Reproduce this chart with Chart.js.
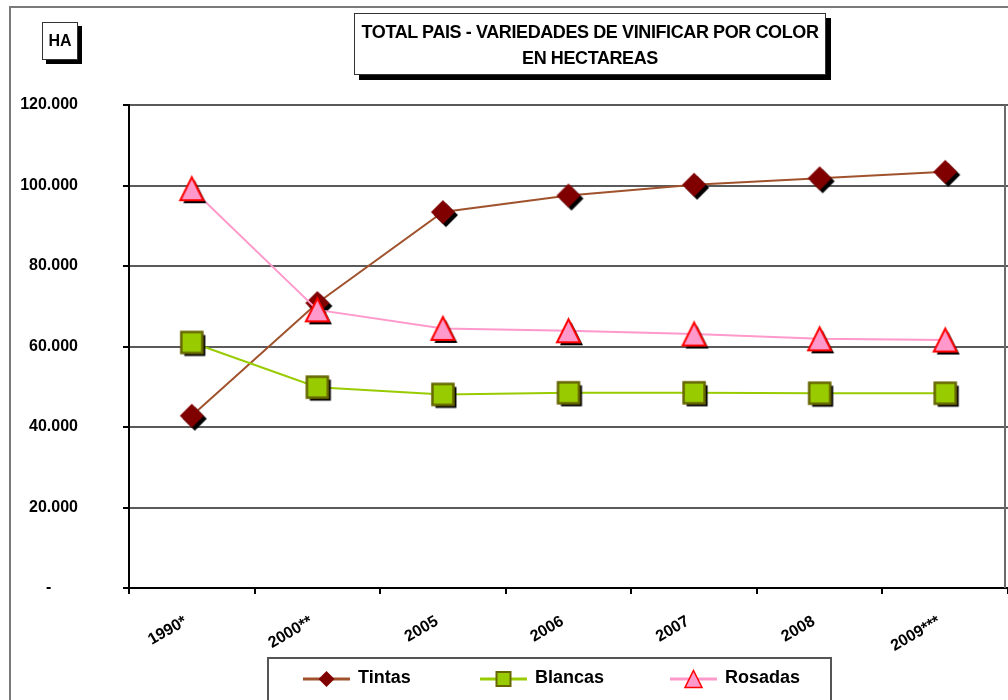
<!DOCTYPE html>
<html>
<head>
<meta charset="utf-8">
<script src="https://cdn.jsdelivr.net/npm/chart.js@4.4.0/dist/chart.umd.min.js"></script>
<style>
  html, body { margin: 0; padding: 0; background: #fff; overflow: hidden; }
  #wrap { position: relative; width: 1008px; height: 700px; overflow: hidden; }
  #frame { position: absolute; left: 9px; top: 6px; width: 1020px; height: 720px; border: 2px solid #7a7a7a; box-sizing: border-box; }
  .box { position: absolute; background: #fff; border: 1.5px solid #333; box-shadow: 5px 5px 0 #000;
         font-family: "Liberation Sans", Arial, sans-serif; font-weight: bold; color: #000; text-align: center; box-sizing: border-box; }
  #ha { left: 42px; top: 22px; width: 36px; height: 38px; font-size: 16px; line-height: 36px; box-shadow: 4px 4px 0 #000; }
  #title { left: 354px; top: 13px; width: 472px; height: 62px; font-size: 18px; letter-spacing: -0.4px; line-height: 26px; padding-top: 5px; }
  canvas { position: absolute; left: 0; top: 0; }
</style>
</head>
<body>
<div id="wrap">
  <div id="frame"></div>
  <canvas id="chart" width="1008" height="700"></canvas>
  <div class="box" id="ha">HA</div>
  <div class="box" id="title">TOTAL PAIS - VARIEDADES DE VINIFICAR POR COLOR<br>EN HECTAREAS</div>
</div>
<script>
const years = ['1990*', '2000**', '2005', '2006', '2007', '2008', '2009***'];
const tintas = [42800, 70800, 93400, 97500, 100200, 101800, 103400];
const blancas = [61000, 49900, 48100, 48500, 48500, 48400, 48400];
const rosadas = [99200, 69100, 64500, 63900, 63100, 61900, 61600];
const yTicks = [0, 20000, 40000, 60000, 80000, 100000, 120000];

const FONT = '"Liberation Sans", Arial, sans-serif';

// draws one marker shape centred on (x, y)
function shape(ctx, type, x, y, r) {
  ctx.beginPath();
  if (type === 'diamond') {
    ctx.moveTo(x, y - r); ctx.lineTo(x + r, y); ctx.lineTo(x, y + r); ctx.lineTo(x - r, y);
  } else if (type === 'square') {
    ctx.rect(x - r, y - r, 2 * r, 2 * r);
  } else {
    ctx.moveTo(x, y - r); ctx.lineTo(x + r, y + r); ctx.lineTo(x - r, y + r);
  }
  ctx.closePath();
}

function makeMarker(type, fill, stroke, r, lw, shadow) {
  const c = document.createElement('canvas');
  const s = Math.ceil(2 * (r + shadow + lw + 1));
  c.width = s; c.height = s;
  const g = c.getContext('2d');
  if (shadow) {
    shape(g, type, s / 2 + shadow, s / 2 + shadow, r);
    g.fillStyle = '#000'; g.fill();
  }
  shape(g, type, s / 2, s / 2, r);
  g.fillStyle = fill; g.fill();
  if (stroke) { g.lineWidth = lw; g.strokeStyle = stroke; g.stroke(); }
  return c;
}

const series = [
  { label: 'Tintas', data: tintas, line: '#A0522D', type: 'diamond', fill: '#800000', stroke: null, r: 12, lw: 0, order: 3 },
  { label: 'Blancas', data: blancas, line: '#99CC00', type: 'square', fill: '#99CC00', stroke: '#666600', r: 10.5, lw: 2.5, order: 2 },
  { label: 'Rosadas', data: rosadas, line: '#FF99CC', type: 'tri', fill: '#FF99CC', stroke: '#FF0000', r: 11.5, lw: 2, order: 1 }
];

function fmt(v) {
  if (v === 0) return '-      ';
  return String(v).replace(/\B(?=(\d{3})+(?!\d))/g, '.');
}

// right border of plot area + custom legend box
const extras = {
  id: 'extras',
  afterDraw(chart) {
    const { ctx, chartArea: a } = chart;
    ctx.save();
    ctx.strokeStyle = '#6a6a6a';
    ctx.lineWidth = 2;
    ctx.beginPath();
    ctx.moveTo(a.right - 3, a.top); ctx.lineTo(a.right - 3, a.bottom);
    ctx.stroke();

    // legend
    ctx.fillStyle = '#fff';
    ctx.fillRect(268, 658, 563, 50);
    ctx.strokeStyle = '#555';
    ctx.lineWidth = 2;
    ctx.strokeRect(268, 658, 563, 50);
    const lx = [303, 480, 670];
    const sm = [
      { r: 8, lw: 0 }, { r: 7, lw: 2 }, { r: 8.5, lw: 1.5 }
    ];
    ctx.font = 'bold 18px ' + FONT;
    ctx.textBaseline = 'middle';
    chart.data.datasets.forEach((ds, i) => {
      const s = series[i];
      const y = 679;
      ctx.strokeStyle = s.line;
      ctx.lineWidth = 3;
      ctx.beginPath();
      ctx.moveTo(lx[i], y); ctx.lineTo(lx[i] + 47, y);
      ctx.stroke();
      shape(ctx, s.type, lx[i] + 23.5, y, sm[i].r);
      ctx.fillStyle = s.fill; ctx.fill();
      if (s.stroke) { ctx.lineWidth = sm[i].lw; ctx.strokeStyle = s.stroke; ctx.stroke(); }
      ctx.fillStyle = '#000';
      ctx.textAlign = 'left';
      ctx.fillText(ds.label, lx[i] + 55, y - 1);
    });
    ctx.restore();
  }
};

new Chart(document.getElementById('chart'), {
  type: 'line',
  data: {
    labels: years,
    datasets: series.map(s => ({
      label: s.label,
      data: s.data,
      borderColor: s.line,
      backgroundColor: s.fill,
      borderWidth: 2,
      tension: 0,
      order: s.order,
      pointStyle: makeMarker(s.type, s.fill, s.stroke, s.r, s.lw, 3)
    }))
  },
  options: {
    responsive: false,
    animation: false,
    layout: { autoPadding: false, padding: { top: 105, left: 0, right: 0, bottom: 0 } },
    plugins: {
      legend: { display: false },
      title: { display: false },
      tooltip: { enabled: false }
    },
    scales: {
      x: {
        offset: true,
        afterFit: s => { s.height = 112; s.paddingLeft = 0; s.paddingRight = 0; },
        grid: { offset: true, drawOnChartArea: false, drawTicks: true, tickLength: 6, color: '#000', lineWidth: 2 },
        border: { color: '#000', width: 2 },
        ticks: {
          minRotation: 30, maxRotation: 30, padding: 18, labelOffset: -6,
          color: '#000', font: { family: FONT, size: 16, weight: 'bold' }
        }
      },
      y: {
        min: 0, max: 120000,
        afterFit: s => { s.width = 129; },
        afterBuildTicks: s => { s.ticks = yTicks.map(v => ({ value: v })); },
        grid: { color: '#5a5a5a', lineWidth: 2, tickLength: 6, tickColor: '#000' },
        border: { color: '#000', width: 2 },
        ticks: {
          padding: 45, color: '#000',
          font: { family: FONT, size: 16, weight: 'bold' },
          callback: v => fmt(v)
        }
      }
    }
  },
  plugins: [extras]
});
</script>
</body>
</html>
